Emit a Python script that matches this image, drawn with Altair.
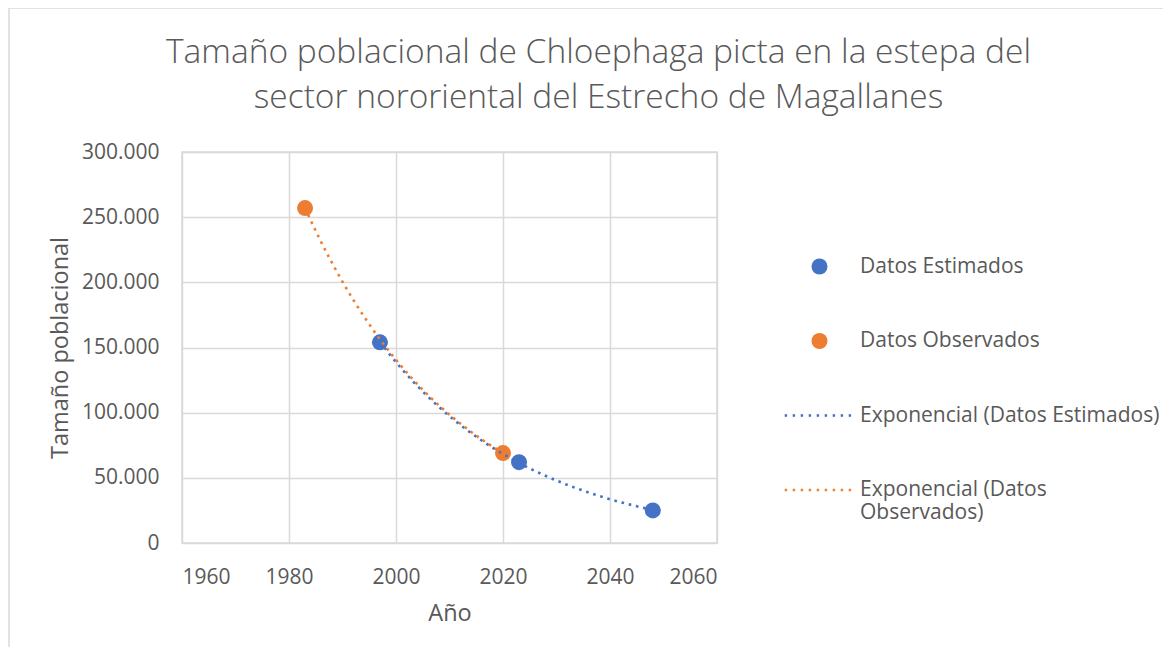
import altair as alt
import pandas as pd

# Data
est_years = [1997, 2023, 2048]
est_values = [154000, 62000, 25000]
obs_years = [1983, 2020]
obs_values = [257000, 69000]

series_names = ["Datos Estimados", "Datos Observados"]
legend_labels = [
    "Datos Estimados",
    "Datos Observados",
    "Exponencial (Datos Estimados)",
    "Exponencial (Datos Observados)",
]
x_ticks = [1960, 1980, 2000, 2020, 2040, 2060]
y_ticks = [0, 50000, 100000, 150000, 200000, 250000, 300000]

BLUE = "#4472C4"
ORANGE = "#ED7D31"
GRID = "#D9D9D9"
TXT = "#595959"
FONT = "Open Sans"

df = pd.DataFrame(
    {
        "year": est_years + obs_years,
        "value": est_values + obs_values,
        "serie": [series_names[0]] * len(est_years) + [series_names[1]] * len(obs_years),
    }
)

# dotted-line legend symbol made of small squares
dots = " ".join(
    f"M{x - 0.15:.2f},-0.15h0.3v0.3h-0.3z" for x in [-4.2 + i for i in range(9)]
)

color_scale = alt.Scale(domain=legend_labels, range=[BLUE, ORANGE, BLUE, ORANGE])
shape_scale = alt.Scale(domain=legend_labels, range=["circle", "circle", dots, dots])

legend = alt.Legend(
    title=None,
    orient="none",
    legendX=627,
    legendY=104,
    padding=0,
    symbolSize=256,
    symbolStrokeWidth=0,
    symbolOpacity=1,
    labelFont=FONT,
    labelFontSize=21,
    labelColor=TXT,
    labelOffset=30,
    labelLimit=400,
    rowPadding=52.5,
    labelExpr="datum.label == 'Exponencial (Datos Observados)' ? ['Exponencial (Datos', 'Observados)'] : datum.label",
)

x_enc = alt.X(
    "year:Q",
    scale=alt.Scale(domain=[1960, 2060], nice=False),
    axis=alt.Axis(
        title="Año",
        values=x_ticks,
        format="d",
        grid=True,
        domain=False,
        ticks=False,
        labelPadding=23,
        titlePadding=14,
    ),
)
y_enc = alt.Y(
    "value:Q",
    scale=alt.Scale(domain=[0, 300000], nice=False),
    axis=alt.Axis(
        title="Tamaño poblacional",
        values=y_ticks,
        labelExpr="replace(format(datum.value, ','), /,/g, '.')",
        grid=True,
        domain=False,
        ticks=False,
        labelPadding=23,
        titlePadding=9,
    ),
)

frame = (
    alt.Chart(pd.DataFrame({"k": [0]}))
    .mark_rect(fill=None, stroke=GRID, strokeWidth=1.5, clip=False)
    .encode(
        x=alt.value(-173),
        x2=alt.value(1000),
        y=alt.value(-144),
        y2=alt.value(520),
    )
)

points = (
    alt.Chart(df)
    .mark_point(filled=True, size=256, opacity=1)
    .encode(
        x=x_enc,
        y=y_enc,
        color=alt.Color("serie:N", scale=color_scale, legend=legend),
        shape=alt.Shape("serie:N", scale=shape_scale, legend=legend),
    )
)

lines = (
    alt.Chart(df)
    .transform_regression("year", "value", method="exp", groupby=["serie"])
    .transform_calculate(label="'Exponencial (' + datum.serie + ')'")
    .mark_line(strokeWidth=2.6, strokeDash=[2.6, 4.8])
    .encode(
        x="year:Q",
        y="value:Q",
        color=alt.Color("label:N", scale=color_scale, legend=legend),
        detail="label:N",
    )
)

chart = (
    alt.layer(frame, points, lines)
    .properties(
        width=535,
        height=391,
        padding={"left": 174, "top": 144, "right": 446, "bottom": 104},
        autosize=alt.AutoSizeParams(type="none"),
        title=alt.TitleParams(
            text=[
                "Tamaño poblacional de Chloephaga picta  en la estepa del",
                "sector nororiental del Estrecho de Magallanes",
            ],
            font=FONT,
            fontSize=33.5,
            fontWeight=300,
            color=TXT,
            anchor="middle",
            frame="group",
            dx=149,
            offset=-108,
            lineHeight=45,
        ),
    )
    .configure_view(stroke=GRID, strokeWidth=1.5)
    .configure_axis(
        gridColor=GRID,
        gridWidth=1.5,
        labelFont=FONT,
        labelFontSize=21,
        labelColor=TXT,
        titleFont=FONT,
        titleFontSize=23.5,
        titleFontWeight="normal",
        titleColor=TXT,
    )
)

chart.save("out.html", embed_options={"renderer": "svg", "actions": False})
